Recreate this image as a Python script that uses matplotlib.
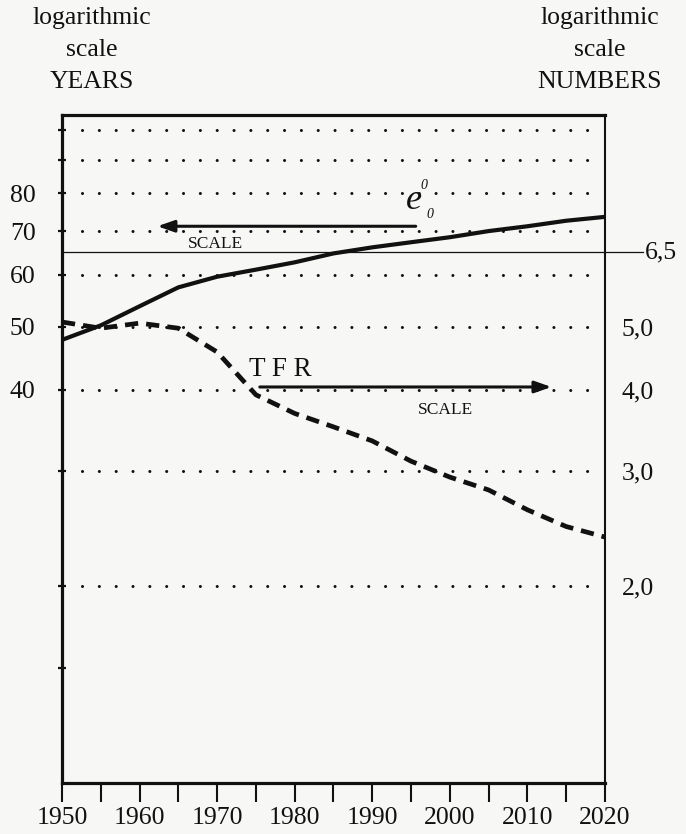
import matplotlib
matplotlib.use("Agg")
import matplotlib.pyplot as plt
from matplotlib.ticker import FixedLocator, NullLocator, FixedFormatter

plt.rcParams['font.family'] = ['Liberation Serif', 'DejaVu Serif']

# data (5-year steps)
years = [1950, 1955, 1960, 1965, 1970, 1975, 1980, 1985, 1990, 1995, 2000, 2005, 2010, 2015, 2020]
e0 = [47.7, 50.2, 53.7, 57.4, 59.6, 61.1, 62.7, 64.7, 66.1, 67.3, 68.5, 70.0, 71.2, 72.6, 73.6]
tfr = [5.08, 4.97, 5.06, 4.97, 4.57, 3.93, 3.68, 3.51, 3.34, 3.11, 2.94, 2.81, 2.62, 2.47, 2.38]

grid_years = [100, 90, 80, 70, 60, 50, 40, 30, 20]
left_ticks = [100, 90, 80, 70, 60, 50, 40, 30, 20, 15]
left_labels = ['', '', '80', '70', '60', '50', '40', '', '', '']
right_ticks = [5.0, 4.0, 3.0, 2.0]
right_labels = ['5,0', '4,0', '3,0', '2,0']
tfr_ref = 6.5
x_labels = ['1950', '1960', '1970', '1980', '1990', '2000', '2010', '2020']

bg = '#f7f7f6'
ink = '#111111'

fig = plt.figure(figsize=(6.86, 8.34), dpi=100, facecolor=bg)
ax = fig.add_axes([62 / 686, 1 - 783 / 834, 543 / 686, 668 / 834])
ax.set_facecolor(bg)

ax.set_yscale('log')
ax.set_ylim(10, 105.4)
ax.set_xlim(1950, 2020)

# dotted grid lines
for g in grid_years:
    ax.plot([1952.6, 2019.5], [g, g], color=ink, lw=2.2,
            linestyle=(0, (0.01, 5.5)), dash_capstyle='round', zorder=1)

ax.plot(years, e0, color=ink, lw=3.0, solid_capstyle='butt', zorder=3)

ax.yaxis.set_major_locator(FixedLocator(left_ticks))
ax.yaxis.set_major_formatter(FixedFormatter(left_labels))
ax.yaxis.set_minor_locator(NullLocator())
ax.tick_params(axis='y', which='major', direction='inout', length=6, width=1.6,
               labelsize=18.5, pad=16, colors=ink)

ax.xaxis.set_major_locator(FixedLocator(range(1950, 2021, 10)))
ax.xaxis.set_major_formatter(FixedFormatter(x_labels))
ax.xaxis.set_minor_locator(FixedLocator(range(1955, 2020, 10)))
ax.tick_params(axis='x', which='both', direction='out', length=14, width=1.5,
               colors=ink)
ax.tick_params(axis='x', which='major', labelsize=18.5, pad=3)

for side in ['left', 'top', 'bottom']:
    ax.spines[side].set_linewidth(2.3)
    ax.spines[side].set_color(ink)
ax.spines['right'].set_linewidth(1.5)
ax.spines['right'].set_color(ink)

# TFR on the right scale (same log scale, divided by ten)
ax2 = ax.twinx()
ax2.set_yscale('log')
ax2.set_ylim(1.0, 10.54)
ax2.plot(years, tfr, color=ink, lw=3.4, linestyle=(0, (2.8, 1.7)),
         dash_capstyle='butt', zorder=3)
ax2.yaxis.set_major_locator(FixedLocator(right_ticks))
ax2.yaxis.set_major_formatter(FixedFormatter(right_labels))
ax2.yaxis.set_minor_locator(NullLocator())
ax2.tick_params(axis='y', which='major', length=0, labelsize=18.5, pad=12, colors=ink)
for side in ax2.spines:
    ax2.spines[side].set_visible(False)

# reference line at 6,5
ax2.axhline(tfr_ref, xmin=0, xmax=1.07, color=ink, lw=0.9, clip_on=False, zorder=2)
ax2.text(1.074, tfr_ref, '6,5', transform=ax2.get_yaxis_transform(),
         ha='left', va='center', fontsize=18.5, color=ink)

# arrows and labels
ax.annotate('', xy=(1962.3, 71.2), xytext=(1995.6, 71.2),
            arrowprops=dict(arrowstyle='-|>,head_length=1.0,head_width=0.35',
                            lw=2.2, color=ink, shrinkA=0, shrinkB=0))
ax.text(1969.8, tfr_ref * 10, 'SCALE', ha='center', va='bottom', fontsize=12.5, color=ink)
ax.text(1995.3, 78.1, 'e', ha='center', va='center', fontsize=26,
        fontstyle='italic', color=ink)
ax.text(1996.7, 82.3, '0', ha='center', va='center', fontsize=10,
        fontstyle='italic', color=ink)
ax.text(1997.4, 74.3, '0', ha='center', va='center', fontsize=10,
        fontstyle='italic', color=ink)

ax2.annotate('', xy=(2013.1, 4.04), xytext=(1975.5, 4.04),
             arrowprops=dict(arrowstyle='-|>,head_length=1.0,head_width=0.35',
                             lw=2.2, color=ink, shrinkA=0, shrinkB=0))
ax2.text(1978.2, 4.30, 'T F R', ha='center', va='center', fontsize=19.5, color=ink)
ax2.text(1999.4, 3.72, 'SCALE', ha='center', va='center', fontsize=12.5, color=ink)

# headers
for txt, y in [('logarithmic', 18), ('scale', 50), ('YEARS', 82)]:
    fig.text(92 / 686, 1 - y / 834, txt, ha='center', va='center', fontsize=18.5, color=ink)
for txt, y in [('logarithmic', 18), ('scale', 50), ('NUMBERS', 82)]:
    fig.text(600 / 686, 1 - y / 834, txt, ha='center', va='center', fontsize=18.5, color=ink)

fig.savefig('out.png', dpi=100, facecolor=bg)
